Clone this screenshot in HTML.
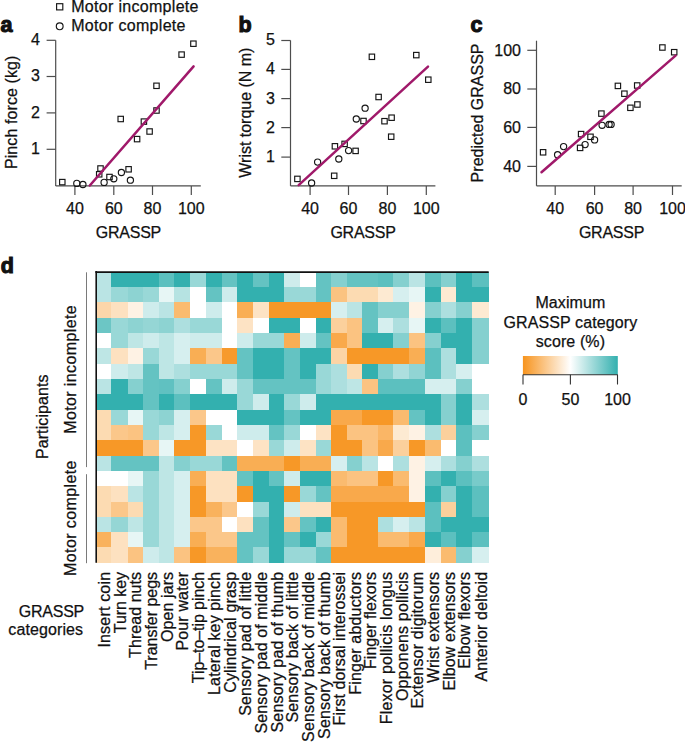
<!DOCTYPE html>
<html><head><meta charset="utf-8"><title>Figure</title>
<style>
html,body{margin:0;padding:0;background:#fff;}
body{width:685px;height:742px;overflow:hidden;}
svg{display:block;font-family:"Liberation Sans",sans-serif;fill:#1a1a1a;}
.ax{stroke:#4d4d4d;stroke-width:1.2;}
.br{stroke:#7a7a7a;stroke-width:1.0;}
.cbt{stroke:#333;stroke-width:1.1;}
.reg{stroke:#a0196a;stroke-width:2.5;stroke-linecap:round;}
.m{fill:none;stroke:#151515;stroke-width:1.15;}
text{fill:#111;stroke:#111;stroke-width:0.25px;}
</style></head><body>
<svg width="685" height="742" viewBox="0 0 685 742">
<text x="0.50" y="31.80" text-anchor="start" font-size="21.5" font-weight="bold" letter-spacing="0" style="stroke-width:1.1px">a</text>
<text x="238.40" y="32.20" text-anchor="start" font-size="21.5" font-weight="bold" letter-spacing="0" style="stroke-width:1.1px">b</text>
<text x="470.40" y="32.00" text-anchor="start" font-size="21.5" font-weight="bold" letter-spacing="0" style="stroke-width:1.1px">c</text>
<text x="0.70" y="272.80" text-anchor="start" font-size="21.5" font-weight="bold" letter-spacing="0" style="stroke-width:1.1px">d</text>
<rect x="56.60" y="3.70" width="6.20" height="6.20" class="m"/>
<circle cx="59.70" cy="26.30" r="3.40" class="m"/>
<text x="71.20" y="12.00" text-anchor="start" font-size="16.0" font-weight="normal" letter-spacing="0.1" textLength="127.4" lengthAdjust="spacing">Motor incomplete</text>
<text x="71.20" y="30.90" text-anchor="start" font-size="16.0" font-weight="normal" letter-spacing="0.1" textLength="114.4" lengthAdjust="spacing">Motor complete</text>
<line x1="55.70" y1="40.30" x2="55.70" y2="185.90" class="ax"/>
<line x1="55.70" y1="185.90" x2="200.80" y2="185.90" class="ax"/>
<line x1="46.60" y1="40.30" x2="55.70" y2="40.30" class="ax"/>
<text x="39.90" y="45.20" text-anchor="end" font-size="16.0" font-weight="normal" letter-spacing="0">4</text>
<line x1="46.60" y1="76.50" x2="55.70" y2="76.50" class="ax"/>
<text x="39.90" y="81.40" text-anchor="end" font-size="16.0" font-weight="normal" letter-spacing="0">3</text>
<line x1="46.60" y1="112.90" x2="55.70" y2="112.90" class="ax"/>
<text x="39.90" y="117.80" text-anchor="end" font-size="16.0" font-weight="normal" letter-spacing="0">2</text>
<line x1="46.60" y1="149.30" x2="55.70" y2="149.30" class="ax"/>
<text x="39.90" y="154.20" text-anchor="end" font-size="16.0" font-weight="normal" letter-spacing="0">1</text>
<line x1="74.90" y1="185.90" x2="74.90" y2="195.00" class="ax"/>
<text x="74.90" y="213.60" text-anchor="middle" font-size="16.0" font-weight="normal" letter-spacing="0">40</text>
<line x1="113.80" y1="185.90" x2="113.80" y2="195.00" class="ax"/>
<text x="113.80" y="213.60" text-anchor="middle" font-size="16.0" font-weight="normal" letter-spacing="0">60</text>
<line x1="152.50" y1="185.90" x2="152.50" y2="195.00" class="ax"/>
<text x="152.50" y="213.60" text-anchor="middle" font-size="16.0" font-weight="normal" letter-spacing="0">80</text>
<line x1="191.30" y1="185.90" x2="191.30" y2="195.00" class="ax"/>
<text x="191.30" y="213.60" text-anchor="middle" font-size="16.0" font-weight="normal" letter-spacing="0">100</text>
<text x="128.40" y="238.00" text-anchor="middle" font-size="16.0" font-weight="normal" letter-spacing="-0.25">GRASSP</text>
<text x="17.00" y="112.30" text-anchor="middle" font-size="16.0" font-weight="normal" letter-spacing="0.1" transform="rotate(-90 17.00 112.30)">Pinch force (kg)</text>
<rect x="59.60" y="179.40" width="5.40" height="5.40" class="m"/>
<rect x="96.50" y="171.60" width="5.40" height="5.40" class="m"/>
<rect x="97.80" y="165.80" width="5.40" height="5.40" class="m"/>
<rect x="106.80" y="174.30" width="5.40" height="5.40" class="m"/>
<rect x="118.00" y="116.30" width="5.40" height="5.40" class="m"/>
<rect x="125.90" y="166.60" width="5.40" height="5.40" class="m"/>
<rect x="134.40" y="136.40" width="5.40" height="5.40" class="m"/>
<rect x="141.20" y="118.90" width="5.40" height="5.40" class="m"/>
<rect x="146.90" y="128.80" width="5.40" height="5.40" class="m"/>
<rect x="153.80" y="107.80" width="5.40" height="5.40" class="m"/>
<rect x="153.80" y="83.10" width="5.40" height="5.40" class="m"/>
<rect x="178.90" y="51.90" width="5.40" height="5.40" class="m"/>
<rect x="190.70" y="41.00" width="5.40" height="5.40" class="m"/>
<circle cx="76.80" cy="183.40" r="3.10" class="m"/>
<circle cx="82.90" cy="184.50" r="3.10" class="m"/>
<circle cx="104.10" cy="182.40" r="3.10" class="m"/>
<circle cx="113.80" cy="178.80" r="3.10" class="m"/>
<circle cx="121.40" cy="172.50" r="3.10" class="m"/>
<circle cx="130.40" cy="180.20" r="3.10" class="m"/>
<line x1="290.50" y1="40.40" x2="290.50" y2="185.90" class="ax"/>
<line x1="290.50" y1="185.90" x2="435.40" y2="185.90" class="ax"/>
<line x1="281.30" y1="40.50" x2="290.50" y2="40.50" class="ax"/>
<text x="275.00" y="45.40" text-anchor="end" font-size="16.0" font-weight="normal" letter-spacing="0">5</text>
<line x1="281.30" y1="69.40" x2="290.50" y2="69.40" class="ax"/>
<text x="275.00" y="74.30" text-anchor="end" font-size="16.0" font-weight="normal" letter-spacing="0">4</text>
<line x1="281.30" y1="98.60" x2="290.50" y2="98.60" class="ax"/>
<text x="275.00" y="103.50" text-anchor="end" font-size="16.0" font-weight="normal" letter-spacing="0">3</text>
<line x1="281.30" y1="127.60" x2="290.50" y2="127.60" class="ax"/>
<text x="275.00" y="132.50" text-anchor="end" font-size="16.0" font-weight="normal" letter-spacing="0">2</text>
<line x1="281.30" y1="157.10" x2="290.50" y2="157.10" class="ax"/>
<text x="275.00" y="162.00" text-anchor="end" font-size="16.0" font-weight="normal" letter-spacing="0">1</text>
<line x1="310.10" y1="185.90" x2="310.10" y2="195.00" class="ax"/>
<text x="310.10" y="213.80" text-anchor="middle" font-size="16.0" font-weight="normal" letter-spacing="0">40</text>
<line x1="348.50" y1="185.90" x2="348.50" y2="195.00" class="ax"/>
<text x="348.50" y="213.80" text-anchor="middle" font-size="16.0" font-weight="normal" letter-spacing="0">60</text>
<line x1="387.40" y1="185.90" x2="387.40" y2="195.00" class="ax"/>
<text x="387.40" y="213.80" text-anchor="middle" font-size="16.0" font-weight="normal" letter-spacing="0">80</text>
<line x1="426.30" y1="185.90" x2="426.30" y2="195.00" class="ax"/>
<text x="426.30" y="213.80" text-anchor="middle" font-size="16.0" font-weight="normal" letter-spacing="0">100</text>
<text x="363.00" y="238.00" text-anchor="middle" font-size="16.0" font-weight="normal" letter-spacing="-0.25">GRASSP</text>
<text x="251.20" y="112.60" text-anchor="middle" font-size="16.0" font-weight="normal" letter-spacing="0.1" transform="rotate(-90 251.20 112.60)" textLength="130.2" lengthAdjust="spacing">Wrist torque (N m)</text>
<rect x="294.70" y="176.20" width="5.40" height="5.40" class="m"/>
<rect x="331.50" y="173.10" width="5.40" height="5.40" class="m"/>
<rect x="332.20" y="143.60" width="5.40" height="5.40" class="m"/>
<rect x="341.90" y="141.20" width="5.40" height="5.40" class="m"/>
<rect x="352.90" y="148.20" width="5.40" height="5.40" class="m"/>
<rect x="360.80" y="118.30" width="5.40" height="5.40" class="m"/>
<rect x="369.20" y="54.10" width="5.40" height="5.40" class="m"/>
<rect x="375.90" y="94.30" width="5.40" height="5.40" class="m"/>
<rect x="381.80" y="118.50" width="5.40" height="5.40" class="m"/>
<rect x="388.90" y="115.00" width="5.40" height="5.40" class="m"/>
<rect x="388.50" y="134.00" width="5.40" height="5.40" class="m"/>
<rect x="413.60" y="52.40" width="5.40" height="5.40" class="m"/>
<rect x="425.60" y="77.00" width="5.40" height="5.40" class="m"/>
<circle cx="311.60" cy="183.00" r="3.10" class="m"/>
<circle cx="317.60" cy="162.10" r="3.10" class="m"/>
<circle cx="338.80" cy="159.00" r="3.10" class="m"/>
<circle cx="348.60" cy="150.60" r="3.10" class="m"/>
<circle cx="356.30" cy="119.00" r="3.10" class="m"/>
<circle cx="365.10" cy="108.20" r="3.10" class="m"/>
<line x1="536.50" y1="40.70" x2="536.50" y2="185.90" class="ax"/>
<line x1="536.50" y1="185.90" x2="681.70" y2="185.90" class="ax"/>
<line x1="527.30" y1="50.30" x2="536.50" y2="50.30" class="ax"/>
<text x="521.00" y="55.70" text-anchor="end" font-size="16.0" font-weight="normal" letter-spacing="0">100</text>
<line x1="527.30" y1="89.00" x2="536.50" y2="89.00" class="ax"/>
<text x="521.00" y="94.40" text-anchor="end" font-size="16.0" font-weight="normal" letter-spacing="0">80</text>
<line x1="527.30" y1="127.40" x2="536.50" y2="127.40" class="ax"/>
<text x="521.00" y="132.80" text-anchor="end" font-size="16.0" font-weight="normal" letter-spacing="0">60</text>
<line x1="527.30" y1="166.40" x2="536.50" y2="166.40" class="ax"/>
<text x="521.00" y="171.80" text-anchor="end" font-size="16.0" font-weight="normal" letter-spacing="0">40</text>
<line x1="555.20" y1="185.90" x2="555.20" y2="195.00" class="ax"/>
<text x="555.20" y="213.60" text-anchor="middle" font-size="16.0" font-weight="normal" letter-spacing="0">40</text>
<line x1="594.60" y1="185.90" x2="594.60" y2="195.00" class="ax"/>
<text x="594.60" y="213.60" text-anchor="middle" font-size="16.0" font-weight="normal" letter-spacing="0">60</text>
<line x1="633.10" y1="185.90" x2="633.10" y2="195.00" class="ax"/>
<text x="633.10" y="213.60" text-anchor="middle" font-size="16.0" font-weight="normal" letter-spacing="0">80</text>
<line x1="672.50" y1="185.90" x2="672.50" y2="195.00" class="ax"/>
<text x="672.50" y="213.60" text-anchor="middle" font-size="16.0" font-weight="normal" letter-spacing="0">100</text>
<text x="611.50" y="238.00" text-anchor="middle" font-size="16.0" font-weight="normal" letter-spacing="-0.25">GRASSP</text>
<text x="483.00" y="112.90" text-anchor="middle" font-size="16.0" font-weight="normal" letter-spacing="0.1" transform="rotate(-90 483.00 112.90)" textLength="139.0" lengthAdjust="spacing">Predicted GRASSP</text>
<rect x="540.40" y="149.60" width="5.40" height="5.40" class="m"/>
<rect x="577.40" y="145.20" width="5.40" height="5.40" class="m"/>
<rect x="578.40" y="131.40" width="5.40" height="5.40" class="m"/>
<rect x="587.80" y="134.10" width="5.40" height="5.40" class="m"/>
<rect x="598.70" y="110.90" width="5.40" height="5.40" class="m"/>
<rect x="615.20" y="83.20" width="5.40" height="5.40" class="m"/>
<rect x="621.70" y="91.00" width="5.40" height="5.40" class="m"/>
<rect x="627.70" y="105.10" width="5.40" height="5.40" class="m"/>
<rect x="634.50" y="82.80" width="5.40" height="5.40" class="m"/>
<rect x="634.70" y="101.80" width="5.40" height="5.40" class="m"/>
<rect x="659.70" y="44.80" width="5.40" height="5.40" class="m"/>
<rect x="671.50" y="49.50" width="5.40" height="5.40" class="m"/>
<circle cx="557.60" cy="154.70" r="3.10" class="m"/>
<circle cx="563.60" cy="146.60" r="3.10" class="m"/>
<circle cx="585.10" cy="144.60" r="3.10" class="m"/>
<circle cx="594.60" cy="139.90" r="3.10" class="m"/>
<circle cx="602.10" cy="125.30" r="3.10" class="m"/>
<circle cx="609.10" cy="124.40" r="3.10" class="m"/>
<circle cx="611.10" cy="124.40" r="3.10" class="m"/>
<line x1="89.80" y1="185.50" x2="193.60" y2="66.40" class="reg"/>
<line x1="298.70" y1="185.20" x2="428.00" y2="66.70" class="reg"/>
<line x1="541.50" y1="172.20" x2="675.60" y2="55.60" class="reg"/>
<g shape-rendering="crispEdges">
<rect x="95.50" y="271.70" width="16.00" height="15.62" fill="#bae4e4"/>
<rect x="111.20" y="271.70" width="16.60" height="15.62" fill="#33b0af"/>
<rect x="127.50" y="271.70" width="15.60" height="15.62" fill="#33b0af"/>
<rect x="142.80" y="271.70" width="16.40" height="15.62" fill="#33b0af"/>
<rect x="158.90" y="271.70" width="15.60" height="15.62" fill="#5cc0bf"/>
<rect x="174.20" y="271.70" width="15.90" height="15.62" fill="#33b0af"/>
<rect x="189.80" y="271.70" width="16.10" height="15.62" fill="#99d8d7"/>
<rect x="205.60" y="271.70" width="16.20" height="15.62" fill="#33b0af"/>
<rect x="221.50" y="271.70" width="15.90" height="15.62" fill="#64c3c2"/>
<rect x="237.10" y="271.70" width="16.00" height="15.62" fill="#33b0af"/>
<rect x="252.80" y="271.70" width="16.20" height="15.62" fill="#64c3c2"/>
<rect x="268.70" y="271.70" width="15.90" height="15.62" fill="#33b0af"/>
<rect x="284.30" y="271.70" width="15.90" height="15.62" fill="#ceecec"/>
<rect x="299.90" y="271.70" width="16.20" height="15.62" fill="#ffffff"/>
<rect x="315.80" y="271.70" width="15.30" height="15.62" fill="#64c3c2"/>
<rect x="330.80" y="271.70" width="16.50" height="15.62" fill="#85d0cf"/>
<rect x="347.00" y="271.70" width="15.60" height="15.62" fill="#64c3c2"/>
<rect x="362.30" y="271.70" width="16.10" height="15.62" fill="#64c3c2"/>
<rect x="378.10" y="271.70" width="15.60" height="15.62" fill="#5cc0bf"/>
<rect x="393.40" y="271.70" width="16.10" height="15.62" fill="#85d0cf"/>
<rect x="409.20" y="271.70" width="16.00" height="15.62" fill="#bae4e4"/>
<rect x="424.90" y="271.70" width="16.10" height="15.62" fill="#5cc0bf"/>
<rect x="440.70" y="271.70" width="15.80" height="15.62" fill="#85d0cf"/>
<rect x="456.20" y="271.70" width="16.10" height="15.62" fill="#33b0af"/>
<rect x="472.00" y="271.70" width="17.00" height="15.62" fill="#5cc0bf"/>
<rect x="95.50" y="287.02" width="16.00" height="15.62" fill="#bae4e4"/>
<rect x="111.20" y="287.02" width="16.60" height="15.62" fill="#99d8d7"/>
<rect x="127.50" y="287.02" width="15.60" height="15.62" fill="#8dd3d2"/>
<rect x="142.80" y="287.02" width="16.40" height="15.62" fill="#99d8d7"/>
<rect x="158.90" y="287.02" width="15.60" height="15.62" fill="#e7f6f5"/>
<rect x="174.20" y="287.02" width="15.90" height="15.62" fill="#b6e3e2"/>
<rect x="189.80" y="287.02" width="16.10" height="15.62" fill="#ffffff"/>
<rect x="205.60" y="287.02" width="16.20" height="15.62" fill="#64c3c2"/>
<rect x="221.50" y="287.02" width="15.90" height="15.62" fill="#ceecec"/>
<rect x="237.10" y="287.02" width="16.00" height="15.62" fill="#33b0af"/>
<rect x="252.80" y="287.02" width="16.20" height="15.62" fill="#33b0af"/>
<rect x="268.70" y="287.02" width="15.90" height="15.62" fill="#33b0af"/>
<rect x="284.30" y="287.02" width="15.90" height="15.62" fill="#99d8d7"/>
<rect x="299.90" y="287.02" width="16.20" height="15.62" fill="#99d8d7"/>
<rect x="315.80" y="287.02" width="15.30" height="15.62" fill="#64c3c2"/>
<rect x="330.80" y="287.02" width="16.50" height="15.62" fill="#fbc381"/>
<rect x="347.00" y="287.02" width="15.60" height="15.62" fill="#fcdbb2"/>
<rect x="362.30" y="287.02" width="16.10" height="15.62" fill="#fcdbb2"/>
<rect x="378.10" y="287.02" width="15.60" height="15.62" fill="#fdead2"/>
<rect x="393.40" y="287.02" width="16.10" height="15.62" fill="#d6efef"/>
<rect x="409.20" y="287.02" width="16.00" height="15.62" fill="#e7f6f5"/>
<rect x="424.90" y="287.02" width="16.10" height="15.62" fill="#33b0af"/>
<rect x="440.70" y="287.02" width="15.80" height="15.62" fill="#fdead2"/>
<rect x="456.20" y="287.02" width="16.10" height="15.62" fill="#33b0af"/>
<rect x="472.00" y="287.02" width="17.00" height="15.62" fill="#33b0af"/>
<rect x="95.50" y="302.34" width="16.00" height="15.62" fill="#fcd6aa"/>
<rect x="111.20" y="302.34" width="16.60" height="15.62" fill="#fde1c0"/>
<rect x="127.50" y="302.34" width="15.60" height="15.62" fill="#fef2e4"/>
<rect x="142.80" y="302.34" width="16.40" height="15.62" fill="#ceecec"/>
<rect x="158.90" y="302.34" width="15.60" height="15.62" fill="#bae4e4"/>
<rect x="174.20" y="302.34" width="15.90" height="15.62" fill="#fabb6f"/>
<rect x="189.80" y="302.34" width="16.10" height="15.62" fill="#ffffff"/>
<rect x="205.60" y="302.34" width="16.20" height="15.62" fill="#ceecec"/>
<rect x="221.50" y="302.34" width="15.90" height="15.62" fill="#ffffff"/>
<rect x="237.10" y="302.34" width="16.00" height="15.62" fill="#f9ae54"/>
<rect x="252.80" y="302.34" width="16.20" height="15.62" fill="#fde3c4"/>
<rect x="268.70" y="302.34" width="15.90" height="15.62" fill="#f79827"/>
<rect x="284.30" y="302.34" width="15.90" height="15.62" fill="#f79827"/>
<rect x="299.90" y="302.34" width="16.20" height="15.62" fill="#f79827"/>
<rect x="315.80" y="302.34" width="15.30" height="15.62" fill="#f79827"/>
<rect x="330.80" y="302.34" width="16.50" height="15.62" fill="#d6efef"/>
<rect x="347.00" y="302.34" width="15.60" height="15.62" fill="#bae4e4"/>
<rect x="362.30" y="302.34" width="16.10" height="15.62" fill="#64c3c2"/>
<rect x="378.10" y="302.34" width="15.60" height="15.62" fill="#85d0cf"/>
<rect x="393.40" y="302.34" width="16.10" height="15.62" fill="#85d0cf"/>
<rect x="409.20" y="302.34" width="16.00" height="15.62" fill="#fef2e4"/>
<rect x="424.90" y="302.34" width="16.10" height="15.62" fill="#85d0cf"/>
<rect x="440.70" y="302.34" width="15.80" height="15.62" fill="#addfdf"/>
<rect x="456.20" y="302.34" width="16.10" height="15.62" fill="#85d0cf"/>
<rect x="472.00" y="302.34" width="17.00" height="15.62" fill="#fdead2"/>
<rect x="95.50" y="317.66" width="16.00" height="15.62" fill="#6cc6c5"/>
<rect x="111.20" y="317.66" width="16.60" height="15.62" fill="#99d8d7"/>
<rect x="127.50" y="317.66" width="15.60" height="15.62" fill="#8dd3d2"/>
<rect x="142.80" y="317.66" width="16.40" height="15.62" fill="#95d6d5"/>
<rect x="158.90" y="317.66" width="15.60" height="15.62" fill="#8dd3d2"/>
<rect x="174.20" y="317.66" width="15.90" height="15.62" fill="#addfdf"/>
<rect x="189.80" y="317.66" width="16.10" height="15.62" fill="#99d8d7"/>
<rect x="205.60" y="317.66" width="16.20" height="15.62" fill="#99d8d7"/>
<rect x="221.50" y="317.66" width="15.90" height="15.62" fill="#ffffff"/>
<rect x="237.10" y="317.66" width="16.00" height="15.62" fill="#fde3c4"/>
<rect x="252.80" y="317.66" width="16.20" height="15.62" fill="#ffffff"/>
<rect x="268.70" y="317.66" width="15.90" height="15.62" fill="#33b0af"/>
<rect x="284.30" y="317.66" width="15.90" height="15.62" fill="#33b0af"/>
<rect x="299.90" y="317.66" width="16.20" height="15.62" fill="#ffffff"/>
<rect x="315.80" y="317.66" width="15.30" height="15.62" fill="#33b0af"/>
<rect x="330.80" y="317.66" width="16.50" height="15.62" fill="#fbd09c"/>
<rect x="347.00" y="317.66" width="15.60" height="15.62" fill="#fbc381"/>
<rect x="362.30" y="317.66" width="16.10" height="15.62" fill="#64c3c2"/>
<rect x="378.10" y="317.66" width="15.60" height="15.62" fill="#d6efef"/>
<rect x="393.40" y="317.66" width="16.10" height="15.62" fill="#addfdf"/>
<rect x="409.20" y="317.66" width="16.00" height="15.62" fill="#e7f6f5"/>
<rect x="424.90" y="317.66" width="16.10" height="15.62" fill="#33b0af"/>
<rect x="440.70" y="317.66" width="15.80" height="15.62" fill="#5cc0bf"/>
<rect x="456.20" y="317.66" width="16.10" height="15.62" fill="#33b0af"/>
<rect x="472.00" y="317.66" width="17.00" height="15.62" fill="#85d0cf"/>
<rect x="95.50" y="332.98" width="16.00" height="15.62" fill="#ffffff"/>
<rect x="111.20" y="332.98" width="16.60" height="15.62" fill="#99d8d7"/>
<rect x="127.50" y="332.98" width="15.60" height="15.62" fill="#bee6e5"/>
<rect x="142.80" y="332.98" width="16.40" height="15.62" fill="#ceecec"/>
<rect x="158.90" y="332.98" width="15.60" height="15.62" fill="#bee6e5"/>
<rect x="174.20" y="332.98" width="15.90" height="15.62" fill="#d6efef"/>
<rect x="189.80" y="332.98" width="16.10" height="15.62" fill="#ceecec"/>
<rect x="205.60" y="332.98" width="16.20" height="15.62" fill="#ceecec"/>
<rect x="221.50" y="332.98" width="15.90" height="15.62" fill="#ffffff"/>
<rect x="237.10" y="332.98" width="16.00" height="15.62" fill="#ceecec"/>
<rect x="252.80" y="332.98" width="16.20" height="15.62" fill="#99d8d7"/>
<rect x="268.70" y="332.98" width="15.90" height="15.62" fill="#99d8d7"/>
<rect x="284.30" y="332.98" width="15.90" height="15.62" fill="#f9ae54"/>
<rect x="299.90" y="332.98" width="16.20" height="15.62" fill="#ceecec"/>
<rect x="315.80" y="332.98" width="15.30" height="15.62" fill="#64c3c2"/>
<rect x="330.80" y="332.98" width="16.50" height="15.62" fill="#f9a94b"/>
<rect x="347.00" y="332.98" width="15.60" height="15.62" fill="#fbc381"/>
<rect x="362.30" y="332.98" width="16.10" height="15.62" fill="#33b0af"/>
<rect x="378.10" y="332.98" width="15.60" height="15.62" fill="#33b0af"/>
<rect x="393.40" y="332.98" width="16.10" height="15.62" fill="#85d0cf"/>
<rect x="409.20" y="332.98" width="16.00" height="15.62" fill="#fbc381"/>
<rect x="424.90" y="332.98" width="16.10" height="15.62" fill="#85d0cf"/>
<rect x="440.70" y="332.98" width="15.80" height="15.62" fill="#33b0af"/>
<rect x="456.20" y="332.98" width="16.10" height="15.62" fill="#33b0af"/>
<rect x="472.00" y="332.98" width="17.00" height="15.62" fill="#85d0cf"/>
<rect x="95.50" y="348.31" width="16.00" height="15.62" fill="#bee6e5"/>
<rect x="111.20" y="348.31" width="16.60" height="15.62" fill="#fde1c0"/>
<rect x="127.50" y="348.31" width="15.60" height="15.62" fill="#fef2e4"/>
<rect x="142.80" y="348.31" width="16.40" height="15.62" fill="#99d8d7"/>
<rect x="158.90" y="348.31" width="15.60" height="15.62" fill="#bee6e5"/>
<rect x="174.20" y="348.31" width="15.90" height="15.62" fill="#d6efef"/>
<rect x="189.80" y="348.31" width="16.10" height="15.62" fill="#f9ae54"/>
<rect x="205.60" y="348.31" width="16.20" height="15.62" fill="#fbc78a"/>
<rect x="221.50" y="348.31" width="15.90" height="15.62" fill="#f79a2c"/>
<rect x="237.10" y="348.31" width="16.00" height="15.62" fill="#64c3c2"/>
<rect x="252.80" y="348.31" width="16.20" height="15.62" fill="#33b0af"/>
<rect x="268.70" y="348.31" width="15.90" height="15.62" fill="#33b0af"/>
<rect x="284.30" y="348.31" width="15.90" height="15.62" fill="#64c3c2"/>
<rect x="299.90" y="348.31" width="16.20" height="15.62" fill="#33b0af"/>
<rect x="315.80" y="348.31" width="15.30" height="15.62" fill="#33b0af"/>
<rect x="330.80" y="348.31" width="16.50" height="15.62" fill="#fcd4a5"/>
<rect x="347.00" y="348.31" width="15.60" height="15.62" fill="#f79827"/>
<rect x="362.30" y="348.31" width="16.10" height="15.62" fill="#f79827"/>
<rect x="378.10" y="348.31" width="15.60" height="15.62" fill="#f79827"/>
<rect x="393.40" y="348.31" width="16.10" height="15.62" fill="#f79827"/>
<rect x="409.20" y="348.31" width="16.00" height="15.62" fill="#f9ae54"/>
<rect x="424.90" y="348.31" width="16.10" height="15.62" fill="#5cc0bf"/>
<rect x="440.70" y="348.31" width="15.80" height="15.62" fill="#addfdf"/>
<rect x="456.20" y="348.31" width="16.10" height="15.62" fill="#33b0af"/>
<rect x="472.00" y="348.31" width="17.00" height="15.62" fill="#85d0cf"/>
<rect x="95.50" y="363.63" width="16.00" height="15.62" fill="#ffffff"/>
<rect x="111.20" y="363.63" width="16.60" height="15.62" fill="#ceecec"/>
<rect x="127.50" y="363.63" width="15.60" height="15.62" fill="#bee6e5"/>
<rect x="142.80" y="363.63" width="16.40" height="15.62" fill="#64c3c2"/>
<rect x="158.90" y="363.63" width="15.60" height="15.62" fill="#bee6e5"/>
<rect x="174.20" y="363.63" width="15.90" height="15.62" fill="#addfdf"/>
<rect x="189.80" y="363.63" width="16.10" height="15.62" fill="#99d8d7"/>
<rect x="205.60" y="363.63" width="16.20" height="15.62" fill="#99d8d7"/>
<rect x="221.50" y="363.63" width="15.90" height="15.62" fill="#99d8d7"/>
<rect x="237.10" y="363.63" width="16.00" height="15.62" fill="#64c3c2"/>
<rect x="252.80" y="363.63" width="16.20" height="15.62" fill="#33b0af"/>
<rect x="268.70" y="363.63" width="15.90" height="15.62" fill="#33b0af"/>
<rect x="284.30" y="363.63" width="15.90" height="15.62" fill="#64c3c2"/>
<rect x="299.90" y="363.63" width="16.20" height="15.62" fill="#33b0af"/>
<rect x="315.80" y="363.63" width="15.30" height="15.62" fill="#99d8d7"/>
<rect x="330.80" y="363.63" width="16.50" height="15.62" fill="#addfdf"/>
<rect x="347.00" y="363.63" width="15.60" height="15.62" fill="#fcdbb2"/>
<rect x="362.30" y="363.63" width="16.10" height="15.62" fill="#33b0af"/>
<rect x="378.10" y="363.63" width="15.60" height="15.62" fill="#85d0cf"/>
<rect x="393.40" y="363.63" width="16.10" height="15.62" fill="#addfdf"/>
<rect x="409.20" y="363.63" width="16.00" height="15.62" fill="#91d4d4"/>
<rect x="424.90" y="363.63" width="16.10" height="15.62" fill="#5cc0bf"/>
<rect x="440.70" y="363.63" width="15.80" height="15.62" fill="#addfdf"/>
<rect x="456.20" y="363.63" width="16.10" height="15.62" fill="#d6efef"/>
<rect x="472.00" y="363.63" width="17.00" height="15.62" fill="#ffffff"/>
<rect x="95.50" y="378.95" width="16.00" height="15.62" fill="#bae4e4"/>
<rect x="111.20" y="378.95" width="16.60" height="15.62" fill="#33b0af"/>
<rect x="127.50" y="378.95" width="15.60" height="15.62" fill="#85d0cf"/>
<rect x="142.80" y="378.95" width="16.40" height="15.62" fill="#64c3c2"/>
<rect x="158.90" y="378.95" width="15.60" height="15.62" fill="#60c1c1"/>
<rect x="174.20" y="378.95" width="15.90" height="15.62" fill="#85d0cf"/>
<rect x="189.80" y="378.95" width="16.10" height="15.62" fill="#ffffff"/>
<rect x="205.60" y="378.95" width="16.20" height="15.62" fill="#64c3c2"/>
<rect x="221.50" y="378.95" width="15.90" height="15.62" fill="#ceecec"/>
<rect x="237.10" y="378.95" width="16.00" height="15.62" fill="#99d8d7"/>
<rect x="252.80" y="378.95" width="16.20" height="15.62" fill="#64c3c2"/>
<rect x="268.70" y="378.95" width="15.90" height="15.62" fill="#64c3c2"/>
<rect x="284.30" y="378.95" width="15.90" height="15.62" fill="#64c3c2"/>
<rect x="299.90" y="378.95" width="16.20" height="15.62" fill="#64c3c2"/>
<rect x="315.80" y="378.95" width="15.30" height="15.62" fill="#99d8d7"/>
<rect x="330.80" y="378.95" width="16.50" height="15.62" fill="#addfdf"/>
<rect x="347.00" y="378.95" width="15.60" height="15.62" fill="#bee6e5"/>
<rect x="362.30" y="378.95" width="16.10" height="15.62" fill="#fbc381"/>
<rect x="378.10" y="378.95" width="15.60" height="15.62" fill="#5cc0bf"/>
<rect x="393.40" y="378.95" width="16.10" height="15.62" fill="#5cc0bf"/>
<rect x="409.20" y="378.95" width="16.00" height="15.62" fill="#5cc0bf"/>
<rect x="424.90" y="378.95" width="16.10" height="15.62" fill="#d6efef"/>
<rect x="440.70" y="378.95" width="15.80" height="15.62" fill="#d6efef"/>
<rect x="456.20" y="378.95" width="16.10" height="15.62" fill="#85d0cf"/>
<rect x="472.00" y="378.95" width="17.00" height="15.62" fill="#ffffff"/>
<rect x="95.50" y="394.27" width="16.00" height="15.62" fill="#33b0af"/>
<rect x="111.20" y="394.27" width="16.60" height="15.62" fill="#33b0af"/>
<rect x="127.50" y="394.27" width="15.60" height="15.62" fill="#33b0af"/>
<rect x="142.80" y="394.27" width="16.40" height="15.62" fill="#64c3c2"/>
<rect x="158.90" y="394.27" width="15.60" height="15.62" fill="#33b0af"/>
<rect x="174.20" y="394.27" width="15.90" height="15.62" fill="#5cc0bf"/>
<rect x="189.80" y="394.27" width="16.10" height="15.62" fill="#33b0af"/>
<rect x="205.60" y="394.27" width="16.20" height="15.62" fill="#33b0af"/>
<rect x="221.50" y="394.27" width="15.90" height="15.62" fill="#33b0af"/>
<rect x="237.10" y="394.27" width="16.00" height="15.62" fill="#99d8d7"/>
<rect x="252.80" y="394.27" width="16.20" height="15.62" fill="#ceecec"/>
<rect x="268.70" y="394.27" width="15.90" height="15.62" fill="#33b0af"/>
<rect x="284.30" y="394.27" width="15.90" height="15.62" fill="#99d8d7"/>
<rect x="299.90" y="394.27" width="16.20" height="15.62" fill="#ceecec"/>
<rect x="315.80" y="394.27" width="15.30" height="15.62" fill="#33b0af"/>
<rect x="330.80" y="394.27" width="16.50" height="15.62" fill="#33b0af"/>
<rect x="347.00" y="394.27" width="15.60" height="15.62" fill="#33b0af"/>
<rect x="362.30" y="394.27" width="16.10" height="15.62" fill="#33b0af"/>
<rect x="378.10" y="394.27" width="15.60" height="15.62" fill="#33b0af"/>
<rect x="393.40" y="394.27" width="16.10" height="15.62" fill="#33b0af"/>
<rect x="409.20" y="394.27" width="16.00" height="15.62" fill="#33b0af"/>
<rect x="424.90" y="394.27" width="16.10" height="15.62" fill="#33b0af"/>
<rect x="440.70" y="394.27" width="15.80" height="15.62" fill="#85d0cf"/>
<rect x="456.20" y="394.27" width="16.10" height="15.62" fill="#33b0af"/>
<rect x="472.00" y="394.27" width="17.00" height="15.62" fill="#addfdf"/>
<rect x="95.50" y="409.59" width="16.00" height="15.62" fill="#fcdbb2"/>
<rect x="111.20" y="409.59" width="16.60" height="15.62" fill="#99d8d7"/>
<rect x="127.50" y="409.59" width="15.60" height="15.62" fill="#e7f6f5"/>
<rect x="142.80" y="409.59" width="16.40" height="15.62" fill="#99d8d7"/>
<rect x="158.90" y="409.59" width="15.60" height="15.62" fill="#8dd3d2"/>
<rect x="174.20" y="409.59" width="15.90" height="15.62" fill="#d6efef"/>
<rect x="189.80" y="409.59" width="16.10" height="15.62" fill="#fbc78a"/>
<rect x="205.60" y="409.59" width="16.20" height="15.62" fill="#ffffff"/>
<rect x="221.50" y="409.59" width="15.90" height="15.62" fill="#ffffff"/>
<rect x="237.10" y="409.59" width="16.00" height="15.62" fill="#33b0af"/>
<rect x="252.80" y="409.59" width="16.20" height="15.62" fill="#33b0af"/>
<rect x="268.70" y="409.59" width="15.90" height="15.62" fill="#33b0af"/>
<rect x="284.30" y="409.59" width="15.90" height="15.62" fill="#64c3c2"/>
<rect x="299.90" y="409.59" width="16.20" height="15.62" fill="#33b0af"/>
<rect x="315.80" y="409.59" width="15.30" height="15.62" fill="#33b0af"/>
<rect x="330.80" y="409.59" width="16.50" height="15.62" fill="#f9a94b"/>
<rect x="347.00" y="409.59" width="15.60" height="15.62" fill="#f9a94b"/>
<rect x="362.30" y="409.59" width="16.10" height="15.62" fill="#f79827"/>
<rect x="378.10" y="409.59" width="15.60" height="15.62" fill="#f79827"/>
<rect x="393.40" y="409.59" width="16.10" height="15.62" fill="#fabb6f"/>
<rect x="409.20" y="409.59" width="16.00" height="15.62" fill="#64c3c2"/>
<rect x="424.90" y="409.59" width="16.10" height="15.62" fill="#33b0af"/>
<rect x="440.70" y="409.59" width="15.80" height="15.62" fill="#85d0cf"/>
<rect x="456.20" y="409.59" width="16.10" height="15.62" fill="#33b0af"/>
<rect x="472.00" y="409.59" width="17.00" height="15.62" fill="#d6efef"/>
<rect x="95.50" y="424.91" width="16.00" height="15.62" fill="#fcdbb2"/>
<rect x="111.20" y="424.91" width="16.60" height="15.62" fill="#fbc78a"/>
<rect x="127.50" y="424.91" width="15.60" height="15.62" fill="#fbc381"/>
<rect x="142.80" y="424.91" width="16.40" height="15.62" fill="#99d8d7"/>
<rect x="158.90" y="424.91" width="15.60" height="15.62" fill="#bee6e5"/>
<rect x="174.20" y="424.91" width="15.90" height="15.62" fill="#d6efef"/>
<rect x="189.80" y="424.91" width="16.10" height="15.62" fill="#f79827"/>
<rect x="205.60" y="424.91" width="16.20" height="15.62" fill="#99d8d7"/>
<rect x="221.50" y="424.91" width="15.90" height="15.62" fill="#ffffff"/>
<rect x="237.10" y="424.91" width="16.00" height="15.62" fill="#ceecec"/>
<rect x="252.80" y="424.91" width="16.20" height="15.62" fill="#ceecec"/>
<rect x="268.70" y="424.91" width="15.90" height="15.62" fill="#64c3c2"/>
<rect x="284.30" y="424.91" width="15.90" height="15.62" fill="#99d8d7"/>
<rect x="299.90" y="424.91" width="16.20" height="15.62" fill="#ffffff"/>
<rect x="315.80" y="424.91" width="15.30" height="15.62" fill="#fde3c4"/>
<rect x="330.80" y="424.91" width="16.50" height="15.62" fill="#f79827"/>
<rect x="347.00" y="424.91" width="15.60" height="15.62" fill="#fbc381"/>
<rect x="362.30" y="424.91" width="16.10" height="15.62" fill="#fbc381"/>
<rect x="378.10" y="424.91" width="15.60" height="15.62" fill="#fab666"/>
<rect x="393.40" y="424.91" width="16.10" height="15.62" fill="#fdead2"/>
<rect x="409.20" y="424.91" width="16.00" height="15.62" fill="#fef2e4"/>
<rect x="424.90" y="424.91" width="16.10" height="15.62" fill="#addfdf"/>
<rect x="440.70" y="424.91" width="15.80" height="15.62" fill="#fbd09c"/>
<rect x="456.20" y="424.91" width="16.10" height="15.62" fill="#5cc0bf"/>
<rect x="472.00" y="424.91" width="17.00" height="15.62" fill="#85d0cf"/>
<rect x="95.50" y="440.23" width="16.00" height="15.62" fill="#f79827"/>
<rect x="111.20" y="440.23" width="16.60" height="15.62" fill="#f79827"/>
<rect x="127.50" y="440.23" width="15.60" height="15.62" fill="#f79827"/>
<rect x="142.80" y="440.23" width="16.40" height="15.62" fill="#fbc78a"/>
<rect x="158.90" y="440.23" width="15.60" height="15.62" fill="#e7f6f5"/>
<rect x="174.20" y="440.23" width="15.90" height="15.62" fill="#f79827"/>
<rect x="189.80" y="440.23" width="16.10" height="15.62" fill="#f79827"/>
<rect x="205.60" y="440.23" width="16.20" height="15.62" fill="#fde3c4"/>
<rect x="221.50" y="440.23" width="15.90" height="15.62" fill="#fde3c4"/>
<rect x="237.10" y="440.23" width="16.00" height="15.62" fill="#ffffff"/>
<rect x="252.80" y="440.23" width="16.20" height="15.62" fill="#fde3c4"/>
<rect x="268.70" y="440.23" width="15.90" height="15.62" fill="#99d8d7"/>
<rect x="284.30" y="440.23" width="15.90" height="15.62" fill="#ceecec"/>
<rect x="299.90" y="440.23" width="16.20" height="15.62" fill="#fde3c4"/>
<rect x="315.80" y="440.23" width="15.30" height="15.62" fill="#99d8d7"/>
<rect x="330.80" y="440.23" width="16.50" height="15.62" fill="#f79827"/>
<rect x="347.00" y="440.23" width="15.60" height="15.62" fill="#f79827"/>
<rect x="362.30" y="440.23" width="16.10" height="15.62" fill="#fbc381"/>
<rect x="378.10" y="440.23" width="15.60" height="15.62" fill="#f9a94b"/>
<rect x="393.40" y="440.23" width="16.10" height="15.62" fill="#fbd09c"/>
<rect x="409.20" y="440.23" width="16.00" height="15.62" fill="#f79827"/>
<rect x="424.90" y="440.23" width="16.10" height="15.62" fill="#fabb6f"/>
<rect x="440.70" y="440.23" width="15.80" height="15.62" fill="#ffffff"/>
<rect x="456.20" y="440.23" width="16.10" height="15.62" fill="#5cc0bf"/>
<rect x="472.00" y="440.23" width="17.00" height="15.62" fill="#ffffff"/>
<rect x="95.50" y="455.55" width="16.00" height="15.62" fill="#bae4e4"/>
<rect x="111.20" y="455.55" width="16.60" height="15.62" fill="#64c3c2"/>
<rect x="127.50" y="455.55" width="15.60" height="15.62" fill="#64c3c2"/>
<rect x="142.80" y="455.55" width="16.40" height="15.62" fill="#64c3c2"/>
<rect x="158.90" y="455.55" width="15.60" height="15.62" fill="#bee6e5"/>
<rect x="174.20" y="455.55" width="15.90" height="15.62" fill="#85d0cf"/>
<rect x="189.80" y="455.55" width="16.10" height="15.62" fill="#99d8d7"/>
<rect x="205.60" y="455.55" width="16.20" height="15.62" fill="#99d8d7"/>
<rect x="221.50" y="455.55" width="15.90" height="15.62" fill="#64c3c2"/>
<rect x="237.10" y="455.55" width="16.00" height="15.62" fill="#f9ae54"/>
<rect x="252.80" y="455.55" width="16.20" height="15.62" fill="#f9ae54"/>
<rect x="268.70" y="455.55" width="15.90" height="15.62" fill="#f9ae54"/>
<rect x="284.30" y="455.55" width="15.90" height="15.62" fill="#f79827"/>
<rect x="299.90" y="455.55" width="16.20" height="15.62" fill="#f9ae54"/>
<rect x="315.80" y="455.55" width="15.30" height="15.62" fill="#f9ae54"/>
<rect x="330.80" y="455.55" width="16.50" height="15.62" fill="#d6efef"/>
<rect x="347.00" y="455.55" width="15.60" height="15.62" fill="#85d0cf"/>
<rect x="362.30" y="455.55" width="16.10" height="15.62" fill="#bae4e4"/>
<rect x="378.10" y="455.55" width="15.60" height="15.62" fill="#ffffff"/>
<rect x="393.40" y="455.55" width="16.10" height="15.62" fill="#addfdf"/>
<rect x="409.20" y="455.55" width="16.00" height="15.62" fill="#fef2e4"/>
<rect x="424.90" y="455.55" width="16.10" height="15.62" fill="#d6efef"/>
<rect x="440.70" y="455.55" width="15.80" height="15.62" fill="#addfdf"/>
<rect x="456.20" y="455.55" width="16.10" height="15.62" fill="#85d0cf"/>
<rect x="472.00" y="455.55" width="17.00" height="15.62" fill="#addfdf"/>
<rect x="95.50" y="470.87" width="16.00" height="15.62" fill="#ffffff"/>
<rect x="111.20" y="470.87" width="16.60" height="15.62" fill="#ffffff"/>
<rect x="127.50" y="470.87" width="15.60" height="15.62" fill="#e7f6f5"/>
<rect x="142.80" y="470.87" width="16.40" height="15.62" fill="#99d8d7"/>
<rect x="158.90" y="470.87" width="15.60" height="15.62" fill="#bee6e5"/>
<rect x="174.20" y="470.87" width="15.90" height="15.62" fill="#d6efef"/>
<rect x="189.80" y="470.87" width="16.10" height="15.62" fill="#f9ae54"/>
<rect x="205.60" y="470.87" width="16.20" height="15.62" fill="#fde1c0"/>
<rect x="221.50" y="470.87" width="15.90" height="15.62" fill="#fde1c0"/>
<rect x="237.10" y="470.87" width="16.00" height="15.62" fill="#64c3c2"/>
<rect x="252.80" y="470.87" width="16.20" height="15.62" fill="#33b0af"/>
<rect x="268.70" y="470.87" width="15.90" height="15.62" fill="#64c3c2"/>
<rect x="284.30" y="470.87" width="15.90" height="15.62" fill="#ceecec"/>
<rect x="299.90" y="470.87" width="16.20" height="15.62" fill="#33b0af"/>
<rect x="315.80" y="470.87" width="15.30" height="15.62" fill="#33b0af"/>
<rect x="330.80" y="470.87" width="16.50" height="15.62" fill="#fabb6f"/>
<rect x="347.00" y="470.87" width="15.60" height="15.62" fill="#fbc381"/>
<rect x="362.30" y="470.87" width="16.10" height="15.62" fill="#fbc381"/>
<rect x="378.10" y="470.87" width="15.60" height="15.62" fill="#f79827"/>
<rect x="393.40" y="470.87" width="16.10" height="15.62" fill="#fabb6f"/>
<rect x="409.20" y="470.87" width="16.00" height="15.62" fill="#fef2e4"/>
<rect x="424.90" y="470.87" width="16.10" height="15.62" fill="#5cc0bf"/>
<rect x="440.70" y="470.87" width="15.80" height="15.62" fill="#33b0af"/>
<rect x="456.20" y="470.87" width="16.10" height="15.62" fill="#5cc0bf"/>
<rect x="472.00" y="470.87" width="17.00" height="15.62" fill="#78cbca"/>
<rect x="95.50" y="486.19" width="16.00" height="15.62" fill="#fcdbb2"/>
<rect x="111.20" y="486.19" width="16.60" height="15.62" fill="#fde1c0"/>
<rect x="127.50" y="486.19" width="15.60" height="15.62" fill="#bae4e4"/>
<rect x="142.80" y="486.19" width="16.40" height="15.62" fill="#99d8d7"/>
<rect x="158.90" y="486.19" width="15.60" height="15.62" fill="#bee6e5"/>
<rect x="174.20" y="486.19" width="15.90" height="15.62" fill="#d6efef"/>
<rect x="189.80" y="486.19" width="16.10" height="15.62" fill="#f79827"/>
<rect x="205.60" y="486.19" width="16.20" height="15.62" fill="#fde1c0"/>
<rect x="221.50" y="486.19" width="15.90" height="15.62" fill="#fde1c0"/>
<rect x="237.10" y="486.19" width="16.00" height="15.62" fill="#f79827"/>
<rect x="252.80" y="486.19" width="16.20" height="15.62" fill="#33b0af"/>
<rect x="268.70" y="486.19" width="15.90" height="15.62" fill="#33b0af"/>
<rect x="284.30" y="486.19" width="15.90" height="15.62" fill="#f79827"/>
<rect x="299.90" y="486.19" width="16.20" height="15.62" fill="#99d8d7"/>
<rect x="315.80" y="486.19" width="15.30" height="15.62" fill="#64c3c2"/>
<rect x="330.80" y="486.19" width="16.50" height="15.62" fill="#f9a94b"/>
<rect x="347.00" y="486.19" width="15.60" height="15.62" fill="#f9a94b"/>
<rect x="362.30" y="486.19" width="16.10" height="15.62" fill="#f9a94b"/>
<rect x="378.10" y="486.19" width="15.60" height="15.62" fill="#f9a94b"/>
<rect x="393.40" y="486.19" width="16.10" height="15.62" fill="#f9a94b"/>
<rect x="409.20" y="486.19" width="16.00" height="15.62" fill="#fef2e4"/>
<rect x="424.90" y="486.19" width="16.10" height="15.62" fill="#33b0af"/>
<rect x="440.70" y="486.19" width="15.80" height="15.62" fill="#85d0cf"/>
<rect x="456.20" y="486.19" width="16.10" height="15.62" fill="#33b0af"/>
<rect x="472.00" y="486.19" width="17.00" height="15.62" fill="#5cc0bf"/>
<rect x="95.50" y="501.52" width="16.00" height="15.62" fill="#fcdbb2"/>
<rect x="111.20" y="501.52" width="16.60" height="15.62" fill="#fbc78a"/>
<rect x="127.50" y="501.52" width="15.60" height="15.62" fill="#fcdbb2"/>
<rect x="142.80" y="501.52" width="16.40" height="15.62" fill="#99d8d7"/>
<rect x="158.90" y="501.52" width="15.60" height="15.62" fill="#bee6e5"/>
<rect x="174.20" y="501.52" width="15.90" height="15.62" fill="#d6efef"/>
<rect x="189.80" y="501.52" width="16.10" height="15.62" fill="#f79827"/>
<rect x="205.60" y="501.52" width="16.20" height="15.62" fill="#f9b25d"/>
<rect x="221.50" y="501.52" width="15.90" height="15.62" fill="#fbc78a"/>
<rect x="237.10" y="501.52" width="16.00" height="15.62" fill="#ffffff"/>
<rect x="252.80" y="501.52" width="16.20" height="15.62" fill="#99d8d7"/>
<rect x="268.70" y="501.52" width="15.90" height="15.62" fill="#33b0af"/>
<rect x="284.30" y="501.52" width="15.90" height="15.62" fill="#ceecec"/>
<rect x="299.90" y="501.52" width="16.20" height="15.62" fill="#fde1c0"/>
<rect x="315.80" y="501.52" width="15.30" height="15.62" fill="#fde1c0"/>
<rect x="330.80" y="501.52" width="16.50" height="15.62" fill="#f79827"/>
<rect x="347.00" y="501.52" width="15.60" height="15.62" fill="#f79827"/>
<rect x="362.30" y="501.52" width="16.10" height="15.62" fill="#f79827"/>
<rect x="378.10" y="501.52" width="15.60" height="15.62" fill="#f79827"/>
<rect x="393.40" y="501.52" width="16.10" height="15.62" fill="#f79827"/>
<rect x="409.20" y="501.52" width="16.00" height="15.62" fill="#f79827"/>
<rect x="424.90" y="501.52" width="16.10" height="15.62" fill="#5cc0bf"/>
<rect x="440.70" y="501.52" width="15.80" height="15.62" fill="#fbd09c"/>
<rect x="456.20" y="501.52" width="16.10" height="15.62" fill="#33b0af"/>
<rect x="472.00" y="501.52" width="17.00" height="15.62" fill="#5cc0bf"/>
<rect x="95.50" y="516.84" width="16.00" height="15.62" fill="#bae4e4"/>
<rect x="111.20" y="516.84" width="16.60" height="15.62" fill="#95d6d5"/>
<rect x="127.50" y="516.84" width="15.60" height="15.62" fill="#bee6e5"/>
<rect x="142.80" y="516.84" width="16.40" height="15.62" fill="#99d8d7"/>
<rect x="158.90" y="516.84" width="15.60" height="15.62" fill="#bee6e5"/>
<rect x="174.20" y="516.84" width="15.90" height="15.62" fill="#d6efef"/>
<rect x="189.80" y="516.84" width="16.10" height="15.62" fill="#fbc78a"/>
<rect x="205.60" y="516.84" width="16.20" height="15.62" fill="#fbc78a"/>
<rect x="221.50" y="516.84" width="15.90" height="15.62" fill="#ffffff"/>
<rect x="237.10" y="516.84" width="16.00" height="15.62" fill="#fde1c0"/>
<rect x="252.80" y="516.84" width="16.20" height="15.62" fill="#64c3c2"/>
<rect x="268.70" y="516.84" width="15.90" height="15.62" fill="#33b0af"/>
<rect x="284.30" y="516.84" width="15.90" height="15.62" fill="#fbc78a"/>
<rect x="299.90" y="516.84" width="16.20" height="15.62" fill="#64c3c2"/>
<rect x="315.80" y="516.84" width="15.30" height="15.62" fill="#33b0af"/>
<rect x="330.80" y="516.84" width="16.50" height="15.62" fill="#fabb6f"/>
<rect x="347.00" y="516.84" width="15.60" height="15.62" fill="#f79827"/>
<rect x="362.30" y="516.84" width="16.10" height="15.62" fill="#f79827"/>
<rect x="378.10" y="516.84" width="15.60" height="15.62" fill="#addfdf"/>
<rect x="393.40" y="516.84" width="16.10" height="15.62" fill="#d6efef"/>
<rect x="409.20" y="516.84" width="16.00" height="15.62" fill="#bae4e4"/>
<rect x="424.90" y="516.84" width="16.10" height="15.62" fill="#5cc0bf"/>
<rect x="440.70" y="516.84" width="15.80" height="15.62" fill="#33b0af"/>
<rect x="456.20" y="516.84" width="16.10" height="15.62" fill="#33b0af"/>
<rect x="472.00" y="516.84" width="17.00" height="15.62" fill="#33b0af"/>
<rect x="95.50" y="532.16" width="16.00" height="15.62" fill="#f9b25d"/>
<rect x="111.20" y="532.16" width="16.60" height="15.62" fill="#fde1c0"/>
<rect x="127.50" y="532.16" width="15.60" height="15.62" fill="#e7f6f5"/>
<rect x="142.80" y="532.16" width="16.40" height="15.62" fill="#99d8d7"/>
<rect x="158.90" y="532.16" width="15.60" height="15.62" fill="#bee6e5"/>
<rect x="174.20" y="532.16" width="15.90" height="15.62" fill="#d6efef"/>
<rect x="189.80" y="532.16" width="16.10" height="15.62" fill="#f9ae54"/>
<rect x="205.60" y="532.16" width="16.20" height="15.62" fill="#fbc78a"/>
<rect x="221.50" y="532.16" width="15.90" height="15.62" fill="#fbc78a"/>
<rect x="237.10" y="532.16" width="16.00" height="15.62" fill="#64c3c2"/>
<rect x="252.80" y="532.16" width="16.20" height="15.62" fill="#64c3c2"/>
<rect x="268.70" y="532.16" width="15.90" height="15.62" fill="#33b0af"/>
<rect x="284.30" y="532.16" width="15.90" height="15.62" fill="#64c3c2"/>
<rect x="299.90" y="532.16" width="16.20" height="15.62" fill="#33b0af"/>
<rect x="315.80" y="532.16" width="15.30" height="15.62" fill="#99d8d7"/>
<rect x="330.80" y="532.16" width="16.50" height="15.62" fill="#fabb6f"/>
<rect x="347.00" y="532.16" width="15.60" height="15.62" fill="#f79827"/>
<rect x="362.30" y="532.16" width="16.10" height="15.62" fill="#f79827"/>
<rect x="378.10" y="532.16" width="15.60" height="15.62" fill="#fabb6f"/>
<rect x="393.40" y="532.16" width="16.10" height="15.62" fill="#fabb6f"/>
<rect x="409.20" y="532.16" width="16.00" height="15.62" fill="#f9a94b"/>
<rect x="424.90" y="532.16" width="16.10" height="15.62" fill="#33b0af"/>
<rect x="440.70" y="532.16" width="15.80" height="15.62" fill="#5cc0bf"/>
<rect x="456.20" y="532.16" width="16.10" height="15.62" fill="#33b0af"/>
<rect x="472.00" y="532.16" width="17.00" height="15.62" fill="#5cc0bf"/>
<rect x="95.50" y="547.48" width="16.00" height="15.62" fill="#fcdbb2"/>
<rect x="111.20" y="547.48" width="16.60" height="15.62" fill="#fde1c0"/>
<rect x="127.50" y="547.48" width="15.60" height="15.62" fill="#fbc381"/>
<rect x="142.80" y="547.48" width="16.40" height="15.62" fill="#ceecec"/>
<rect x="158.90" y="547.48" width="15.60" height="15.62" fill="#bee6e5"/>
<rect x="174.20" y="547.48" width="15.90" height="15.62" fill="#fbc381"/>
<rect x="189.80" y="547.48" width="16.10" height="15.62" fill="#f79827"/>
<rect x="205.60" y="547.48" width="16.20" height="15.62" fill="#f9b25d"/>
<rect x="221.50" y="547.48" width="15.90" height="15.62" fill="#f9b25d"/>
<rect x="237.10" y="547.48" width="16.00" height="15.62" fill="#64c3c2"/>
<rect x="252.80" y="547.48" width="16.20" height="15.62" fill="#99d8d7"/>
<rect x="268.70" y="547.48" width="15.90" height="15.62" fill="#33b0af"/>
<rect x="284.30" y="547.48" width="15.90" height="15.62" fill="#99d8d7"/>
<rect x="299.90" y="547.48" width="16.20" height="15.62" fill="#99d8d7"/>
<rect x="315.80" y="547.48" width="15.30" height="15.62" fill="#64c3c2"/>
<rect x="330.80" y="547.48" width="16.50" height="15.62" fill="#f79827"/>
<rect x="347.00" y="547.48" width="15.60" height="15.62" fill="#f79827"/>
<rect x="362.30" y="547.48" width="16.10" height="15.62" fill="#f79827"/>
<rect x="378.10" y="547.48" width="15.60" height="15.62" fill="#f79827"/>
<rect x="393.40" y="547.48" width="16.10" height="15.62" fill="#f79827"/>
<rect x="409.20" y="547.48" width="16.00" height="15.62" fill="#f79827"/>
<rect x="424.90" y="547.48" width="16.10" height="15.62" fill="#feeedb"/>
<rect x="440.70" y="547.48" width="15.80" height="15.62" fill="#fabb6f"/>
<rect x="456.20" y="547.48" width="16.10" height="15.62" fill="#85d0cf"/>
<rect x="472.00" y="547.48" width="17.00" height="15.62" fill="#d6efef"/>
</g>
<line x1="95.40" y1="272.10" x2="488.70" y2="272.10" stroke="#111" stroke-width="1.7"/>
<line x1="96.20" y1="271.00" x2="96.20" y2="562.80" stroke="#111" stroke-width="1.6"/>
<line x1="86.50" y1="272.30" x2="86.50" y2="467.10" class="br"/>
<line x1="86.50" y1="474.20" x2="86.50" y2="563.20" class="br"/>
<text x="76.30" y="369.50" text-anchor="middle" font-size="16.0" font-weight="normal" letter-spacing="0.1" transform="rotate(-90 76.30 369.50)" textLength="128.5" lengthAdjust="spacing">Motor incomplete</text>
<text x="76.30" y="518.20" text-anchor="middle" font-size="16.0" font-weight="normal" letter-spacing="0.1" transform="rotate(-90 76.30 518.20)" textLength="115.5" lengthAdjust="spacing">Motor complete</text>
<text x="48.30" y="416.70" text-anchor="middle" font-size="16.0" font-weight="normal" letter-spacing="0.1" transform="rotate(-90 48.30 416.70)">Participants</text>
<text x="109.65" y="571.80" text-anchor="end" font-size="16.0" font-weight="normal" letter-spacing="0.1" transform="rotate(-90 109.65 571.80)" textLength="75.8" lengthAdjust="spacing">Insert coin</text>
<text x="125.65" y="571.80" text-anchor="end" font-size="16.0" font-weight="normal" letter-spacing="0.1" transform="rotate(-90 125.65 571.80)" textLength="61.4" lengthAdjust="spacing">Turn key</text>
<text x="141.45" y="571.80" text-anchor="end" font-size="16.0" font-weight="normal" letter-spacing="0.1" transform="rotate(-90 141.45 571.80)" textLength="86.1" lengthAdjust="spacing">Thread nuts</text>
<text x="157.15" y="571.80" text-anchor="end" font-size="16.0" font-weight="normal" letter-spacing="0.1" transform="rotate(-90 157.15 571.80)" textLength="98.0" lengthAdjust="spacing">Transfer pegs</text>
<text x="172.85" y="571.80" text-anchor="end" font-size="16.0" font-weight="normal" letter-spacing="0.1" transform="rotate(-90 172.85 571.80)" textLength="70.2" lengthAdjust="spacing">Open jars</text>
<text x="188.30" y="571.80" text-anchor="end" font-size="16.0" font-weight="normal" letter-spacing="0.1" transform="rotate(-90 188.30 571.80)" textLength="78.7" lengthAdjust="spacing">Pour water</text>
<text x="204.00" y="571.80" text-anchor="end" font-size="16.0" font-weight="normal" letter-spacing="0.1" transform="rotate(-90 204.00 571.80)" textLength="111.4" lengthAdjust="spacing">Tip&#8211;to&#8211;tip pinch</text>
<text x="219.85" y="571.80" text-anchor="end" font-size="16.0" font-weight="normal" letter-spacing="0.1" transform="rotate(-90 219.85 571.80)" textLength="123.1" lengthAdjust="spacing">Lateral key pinch</text>
<text x="235.60" y="571.80" text-anchor="end" font-size="16.0" font-weight="normal" letter-spacing="0.1" transform="rotate(-90 235.60 571.80)" textLength="121.0" lengthAdjust="spacing">Cylindrical grasp</text>
<text x="251.25" y="571.80" text-anchor="end" font-size="16.0" font-weight="normal" letter-spacing="0.1" transform="rotate(-90 251.25 571.80)" textLength="144.0" lengthAdjust="spacing">Sensory pad of little</text>
<text x="267.05" y="571.80" text-anchor="end" font-size="16.0" font-weight="normal" letter-spacing="0.1" transform="rotate(-90 267.05 571.80)" textLength="161.7" lengthAdjust="spacing">Sensory pad of middle</text>
<text x="282.80" y="571.80" text-anchor="end" font-size="16.0" font-weight="normal" letter-spacing="0.1" transform="rotate(-90 282.80 571.80)" textLength="160.8" lengthAdjust="spacing">Sensory pad of thumb</text>
<text x="298.40" y="571.80" text-anchor="end" font-size="16.0" font-weight="normal" letter-spacing="0.1" transform="rotate(-90 298.40 571.80)" textLength="150.7" lengthAdjust="spacing">Sensory back of little</text>
<text x="314.15" y="571.80" text-anchor="end" font-size="16.0" font-weight="normal" letter-spacing="0.1" transform="rotate(-90 314.15 571.80)" textLength="170.1" lengthAdjust="spacing">Sensory back of middle</text>
<text x="329.60" y="571.80" text-anchor="end" font-size="16.0" font-weight="normal" letter-spacing="0.1" transform="rotate(-90 329.60 571.80)" textLength="167.1" lengthAdjust="spacing">Sensory back of thumb</text>
<text x="345.20" y="571.80" text-anchor="end" font-size="16.0" font-weight="normal" letter-spacing="0.1" transform="rotate(-90 345.20 571.80)" textLength="153.6" lengthAdjust="spacing">First dorsal interossei</text>
<text x="360.95" y="571.80" text-anchor="end" font-size="16.0" font-weight="normal" letter-spacing="0.1" transform="rotate(-90 360.95 571.80)" textLength="122.9" lengthAdjust="spacing">Finger abductors</text>
<text x="376.50" y="571.80" text-anchor="end" font-size="16.0" font-weight="normal" letter-spacing="0.1" transform="rotate(-90 376.50 571.80)" textLength="97.1" lengthAdjust="spacing">Finger flexors</text>
<text x="392.05" y="571.80" text-anchor="end" font-size="16.0" font-weight="normal" letter-spacing="0.1" transform="rotate(-90 392.05 571.80)" textLength="152.5" lengthAdjust="spacing">Flexor pollicis longus</text>
<text x="407.60" y="571.80" text-anchor="end" font-size="16.0" font-weight="normal" letter-spacing="0.1" transform="rotate(-90 407.60 571.80)" textLength="129.2" lengthAdjust="spacing">Opponens pollicis</text>
<text x="423.35" y="571.80" text-anchor="end" font-size="16.0" font-weight="normal" letter-spacing="0.1" transform="rotate(-90 423.35 571.80)" textLength="136.6" lengthAdjust="spacing">Extensor digitorum</text>
<text x="439.10" y="571.80" text-anchor="end" font-size="16.0" font-weight="normal" letter-spacing="0.1" transform="rotate(-90 439.10 571.80)" textLength="111.2" lengthAdjust="spacing">Wrist extensors</text>
<text x="454.75" y="571.80" text-anchor="end" font-size="16.0" font-weight="normal" letter-spacing="0.1" transform="rotate(-90 454.75 571.80)" textLength="118.8" lengthAdjust="spacing">Elbow extensors</text>
<text x="470.40" y="571.80" text-anchor="end" font-size="16.0" font-weight="normal" letter-spacing="0.1" transform="rotate(-90 470.40 571.80)" textLength="96.9" lengthAdjust="spacing">Elbow flexors</text>
<text x="486.65" y="571.80" text-anchor="end" font-size="16.0" font-weight="normal" letter-spacing="0.1" transform="rotate(-90 486.65 571.80)" textLength="109.8" lengthAdjust="spacing">Anterior deltoid</text>
<text x="84.00" y="616.60" text-anchor="end" font-size="16.0" font-weight="normal" letter-spacing="-0.25">GRASSP</text>
<text x="83.20" y="634.50" text-anchor="end" font-size="16.0" font-weight="normal" letter-spacing="0.1">categories</text>
<defs><linearGradient id="cb" x1="0" x2="1" y1="0" y2="0"><stop offset="0" stop-color="#f7941e"/><stop offset="0.5" stop-color="#ffffff"/><stop offset="1" stop-color="#33b0af"/></linearGradient></defs>
<rect x="522.9" y="356.0" width="94.9" height="18.8" fill="url(#cb)"/>
<line x1="522.90" y1="374.80" x2="617.80" y2="374.80" class="cbt"/>
<line x1="523.00" y1="374.80" x2="523.00" y2="384.50" class="cbt"/>
<text x="523.00" y="404.80" text-anchor="middle" font-size="16.0" font-weight="normal" letter-spacing="0">0</text>
<line x1="570.40" y1="374.80" x2="570.40" y2="384.50" class="cbt"/>
<text x="570.40" y="404.80" text-anchor="middle" font-size="16.0" font-weight="normal" letter-spacing="0">50</text>
<line x1="617.50" y1="374.80" x2="617.50" y2="384.50" class="cbt"/>
<text x="617.50" y="404.80" text-anchor="middle" font-size="16.0" font-weight="normal" letter-spacing="0">100</text>
<text x="570.40" y="308.00" text-anchor="middle" font-size="16.0" font-weight="normal" letter-spacing="0.1">Maximum</text>
<text x="570.40" y="327.60" text-anchor="middle" font-size="16.0" font-weight="normal" letter-spacing="0.1">GRASSP category</text>
<text x="570.40" y="346.60" text-anchor="middle" font-size="16.0" font-weight="normal" letter-spacing="0.1">score (%)</text>
</svg>
</body></html>
